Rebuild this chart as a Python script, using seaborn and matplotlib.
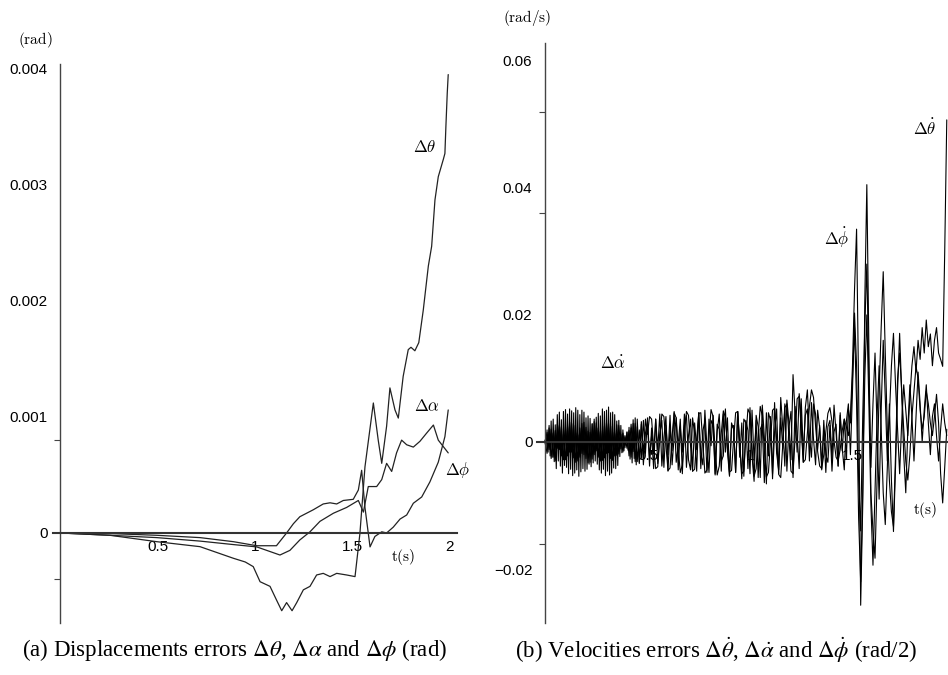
import numpy as np
import matplotlib
matplotlib.use('Agg')
import matplotlib.pyplot as plt
import seaborn as sns

# ---- (a) displacement errors, values in 1e-3 rad ----
t_theta = [0, 0.256, 0.496, 0.718, 0.889, 0.95, 0.991, 1.026, 1.077, 1.111, 1.137,
           1.162, 1.19, 1.214, 1.248, 1.282, 1.316, 1.35, 1.385, 1.419, 1.47, 1.513,
           1.538, 1.564, 1.607, 1.632, 1.65, 1.675, 1.692, 1.718, 1.735, 1.76, 1.786,
           1.80, 1.82, 1.84, 1.863, 1.889, 1.906, 1.923, 1.94, 1.966, 1.974, 1.979,
           1.986, 1.991]
d_theta = [0, -0.02, -0.075, -0.118, -0.218, -0.25, -0.29, -0.42, -0.46, -0.58, -0.67,
           -0.60, -0.67, -0.60, -0.49, -0.46, -0.362, -0.348, -0.376, -0.348, -0.362, -0.376,
           -0.006, 0.57, 1.12, 0.80, 0.60, 0.92, 1.25, 1.06, 0.99, 1.35, 1.58,
           1.60, 1.57, 1.64, 1.92, 2.30, 2.47, 2.87, 3.07, 3.22, 3.27, 3.50,
           3.79, 3.95]

t_alpha = [0, 0.256, 0.496, 0.718, 0.889, 1.009, 1.11, 1.162, 1.197, 1.23, 1.299, 1.35,
           1.385, 1.419, 1.453, 1.504, 1.53, 1.547, 1.564, 1.59, 1.615, 1.65, 1.675,
           1.709, 1.744, 1.778, 1.812, 1.855, 1.897, 1.94, 1.974, 1.991]
d_alpha = [0, -0.005, -0.02, -0.04, -0.075, -0.11, -0.11, 0, 0.08, 0.14, 0.20, 0.25,
           0.26, 0.25, 0.28, 0.29, 0.37, 0.54, 0.22, -0.12, -0.03, 0.01, 0,
           0.05, 0.12, 0.155, 0.256, 0.31, 0.44, 0.61, 0.83, 1.06]

t_phi = [0, 0.256, 0.496, 0.718, 0.889, 1.009, 1.077, 1.128, 1.179, 1.23, 1.282, 1.333,
         1.402, 1.47, 1.53, 1.556, 1.581, 1.624, 1.65, 1.675, 1.701, 1.726, 1.752,
         1.778, 1.812, 1.846, 1.88, 1.915, 1.94, 1.991]
d_phi = [0, -0.02, -0.04, -0.07, -0.10, -0.12, -0.16, -0.19, -0.15, -0.06, 0.01, 0.10,
         0.17, 0.22, 0.28, 0.18, 0.40, 0.40, 0.46, 0.60, 0.53, 0.69, 0.80,
         0.76, 0.74, 0.79, 0.86, 0.93, 0.80, 0.69]

# ---- (b) velocity errors, values in 1e-3 rad/s ----
# theta-dot and phi-dot sampled every 0.01 s from 0 to 1.96 s
v_theta = [
    0.0, -1.8, 2.2, -2.6, 1.4, -3.0, 2.8, -1.2, 2.4, -2.8,
    1.9, -2.2, 3.1, -1.6, 2.6, -3.2, 1.1, -2.4, 2.9, -2.0,
    2.3, -3.3, 1.5, -2.7, 3.2, -1.4, 2.2, -3.0, 1.8, -2.5,
    3.0, -1.7, 2.5, -2.9, 1.3, -2.1, 2.6, -1.1, 1.4, -0.9,
    1.6, -2.2, 2.8, -1.5, 2.9, -3.1, 1.9, -2.6, 3.4, -1.8,
    3.8, -2.4, 1.0, -4.2, 3.6, -1.2, 4.4, -3.8, 0.6, 4.0,
    -4.6, 2.2, -1.4, 4.8, -3.2, -0.4, 3.6, -5.0, 2.6, 4.2,
    -2.8, -4.4, 3.8, 1.2, -4.6, 4.6, -1.8, -3.6, 5.0, -0.8,
    -4.8, 3.4, 2.6, -5.2, 1.6, 4.4, -3.0, -2.2, 5.2, -1.4,
    -5.4, 3.0, 2.0, -4.8, 4.8, -0.6, -5.8, 3.6, 3.0, -4.2,
    5.4, -2.2, -6.2, 4.2, 2.4, -5.6, 5.8, 0.8, -6.6, 4.6,
    3.4, -5.0, 6.2, -1.8, -4.4, 7.0, 2.2, -3.8, 6.6, 3.0,
    -2.8, 10.6, 4.4, -1.6, 7.6, 3.8, -3.2, 5.4, 8.2, 1.0,
    -2.4, 6.0, 4.4, -1.2, 2.6, -3.6, 1.8, -4.8, 2.4, 3.4,
    -2.6, 5.8, 1.4, -3.8, 4.6, -1.0, -4.4, 3.2,
    6.0, -2.0, 8.0, 20.3, 12.0, -6.0, -14.0, 4.0, 18.0, 28.0,
    10.0, -4.0, 6.0, 14.0, 2.0, -9.0, 5.0, 16.0, 7.0, -3.0,
    4.0, 12.0, 17.1, 9.0, 2.0, -5.0, 3.0, 9.0, 5.0, 1.0,
    7.0, 12.0, 15.0, 11.0, 16.0, 13.0, 18.0, 14.0, 19.2, 15.0,
    17.0, 12.0, 16.0, 18.0, 14.0, 13.0, 11.9, 30.0, 50.7]
v_phi = [
    0.0, 1.5, -1.2, 2.0, -2.4, 1.8, -1.0, 2.6, -2.2, 1.2,
    -2.8, 2.4, -1.6, 2.9, -2.5, 1.4, -3.0, 2.2, -1.8, 3.1,
    -2.6, 1.7, -3.2, 2.8, -2.0, 3.0, -2.4, 1.6, -2.9, 2.5,
    -1.8, 2.9, -2.6, 1.5, -2.2, 2.7, -1.9, 1.2, -1.6, 0.8,
    -1.0, 1.8, -2.4, 2.9, -3.1, 2.4, -3.4, 3.2, -2.0, 3.6,
    1.2, 4.0, 3.6, -0.8, -4.2, -3.9,
    0.6, 4.4, 4.0, -0.5, -4.5, -4.1,
    0.9, 4.6, 3.8, -1.0, -4.8, -3.6,
    1.1, 4.8, 4.2, -0.6, -4.6, -4.3,
    0.4, 4.5, 4.6, -0.2, -4.9, -4.4,
    0.8, 5.1, 4.0, -1.2, -5.2, -3.8,
    1.4, 4.9, 3.9, -0.9, -4.7, -4.5,
    0.3, 4.6, 4.8, -0.1, -5.0, -4.6,
    0.7, 5.2, 4.4, -0.8, -5.4, -4.2,
    1.0, 5.6, 4.1, -1.3, -5.5, -4.8,
    0.2, 5.0, 5.3, 0.4, -5.1, -5.6,
    -0.4, 5.4, 6.0, 0.8, -4.6, -5.0,
    0.6, 6.8, 7.2, 2.0, -3.2, -2.8,
    1.5, 5.6, 8.2, 7.0, 2.5, -1.5, -3.8, -4.2, -2.0, 1.6,
    4.5, 5.4, 3.2, 0.2, -2.4, -3.0, -1.2, 1.8, 3.6, 2.4,
    1.0, 4.0, 12.0, 24.0, 33.5, 8.0, -25.7, -10.0, 22.0, 40.5,
    15.0, -8.0, -14.0, -18.3, -6.0, 8.0, 18.0, 26.8, 14.0, 2.0,
    -6.0, -11.0, -13.3, -2.0, 10.0, 14.0, 8.0, 2.0, -3.0, -6.0,
    -2.0, 4.0, 8.0, 11.9, 10.0, 5.0, 2.0, 4.0, 8.0, 6.0,
    3.0, 1.0, 4.0, 7.5, 3.0, -5.0, -9.6, -4.0, 2.0]
# alpha-dot: every 0.005 s up to 0.45 s, then every 0.01 s from 0.46 s
v_alpha_fast = [
    0.3, -1.0, 1.9, -1.6, 2.6, -2.2, 3.3, -2.4, 3.6, -3.1,
    2.7, -4.2, 4.3, -3.0, 4.7, -3.8, 3.5, -4.9, 4.8, -3.7,
    5.1, -4.0, 4.4, -5.0, 5.2, -4.3, 4.9, -5.3, 4.6, -4.9,
    5.4, -4.4, 5.0, -5.4, 4.3, -4.7, 5.0, -4.2, 4.7, -4.6,
    3.8, -4.3, 4.1, -3.5, 3.7, -3.9, 2.9, -3.3, 3.6, -3.0,
    3.9, -3.5, 4.5, -4.4, 4.1, -4.9, 5.2, -4.3, 4.8, -5.3,
    5.0, -4.6, 5.5, -5.2, 4.6, -4.9, 4.7, -4.1, 4.3, -4.2,
    3.3, -3.7, 3.4, -2.3, 2.6, -1.7, 1.9, -1.4, 1.0, -0.5,
    1.5, -1.3, 2.3, -2.7, 2.2, -3.3, 3.5, -2.6, 3.8, -3.6,
    3.6]
v_alpha_slow = [
    -3.2, 2.8, -3.6, 1.4, 3.0, -3.8, 2.2, -1.8, 3.6, -3.4,
    1.2, 3.4, -4.0, 2.6, -2.0, 4.2, -3.6, 0.8, 3.8, -4.4,
    2.4, -1.6, 4.4, -4.0, 1.0, 3.6, -4.6, 3.0, -1.2, 4.6,
    -4.2, 1.8, 3.2, -4.8, 3.6, -0.6, 4.2, -5.0, 2.8, 2.0,
    -4.6, 4.4, -1.6, 3.8, -5.2, 2.2, 2.6, -4.8, 4.8, -2.4,
    3.0, -5.4, 3.4, 1.8, -5.0, 5.0, -3.0, 3.4, -5.6, 2.0,
    2.8, -6.4, 4.6, -2.2, 4.0, -5.8, 1.6, 5.2, -5.0, 3.8,
    -1.0, 6.0, -4.6, 2.4, 4.8, -5.6, 5.6, 1.2, -4.2, 6.8,
    -2.0, 4.2, 5.2, -3.0, 6.2, 0.4, -3.6, 5.0, 2.2, -4.4,
    3.4, -2.0, -3.2, 2.6, -4.6, 1.6, 2.8, -3.8, 4.2, -1.4,
    3.6, -2.4, 5.2, 3.0, 10.0, 18.0, 6.0, -12.0, -22.0, -8.0,
    10.0, 20.0, 6.0, -10.0, -19.4, -8.0, 4.0, 12.0, 2.0, -8.0,
    -13.0, -4.0, 6.0, -6.0, -14.1, -4.0, 8.0, 17.1, 8.0, -2.0,
    -8.0, 2.0, 9.0, 4.0, -3.0, 4.0, 11.0, 6.0, 0.0, 5.0,
    9.0, 3.0, -2.0, 4.0, 6.0, 1.0, -3.0, 2.0, 6.0, 3.0,
    1.0]

t_grid = np.round(np.arange(len(v_theta)) * 0.01, 3)
t_alpha_dot = np.concatenate([np.round(np.arange(len(v_alpha_fast)) * 0.005, 3),
                              np.round(0.46 + np.arange(len(v_alpha_slow)) * 0.01, 3)])
v_alpha = v_alpha_fast + v_alpha_slow

sns.set_theme(style='white')
plt.rcParams['font.family'] = ['Liberation Sans', 'DejaVu Sans']

W, H = 948, 675
fig = plt.figure(figsize=(W / 100, H / 100), dpi=100)


def fpos(x, y):
    return x / W, 1 - y / H


def maple_axes(ax):
    for side in ['top', 'right']:
        ax.spines[side].set_visible(False)
    ax.spines['left'].set_position(('data', 0))
    ax.spines['bottom'].set_position(('data', 0))
    ax.spines['left'].set_color('#444444')
    ax.spines['left'].set_linewidth(1.0)
    ax.spines['bottom'].set_color('#333333')
    ax.spines['bottom'].set_linewidth(1.5)
    ax.set_axisbelow(True)
    ax.patch.set_alpha(0)
    ax.tick_params(axis='y', which='major', length=0, pad=9, labelsize=11, colors='black')
    ax.tick_params(axis='y', which='minor', left=True, length=4, width=0.8, color='#444444')
    ax.tick_params(axis='x', which='major', bottom=True, length=0, pad=5, labelsize=11,
                   colors='black')
    ax.set_xlabel('')
    ax.set_ylabel('')


# (a) displacement errors
ax1 = fig.add_axes([53.2 / W, 0.077, 403.6 / W, 0.828])
for t, d in [(t_theta, d_theta), (t_alpha, d_alpha), (t_phi, d_phi)]:
    sns.lineplot(x=t, y=np.array(d) * 1e-3, ax=ax1, color='#222222', linewidth=0.9,
                 estimator=None, sort=False)
ax1.set_xlim(-0.035, 2.035)
ax1.set_ylim(-0.000776, 0.00404)
ax1.set_xticks([0.5, 1, 1.5, 2])
ax1.set_xticklabels(['0.5', '1', '1.5', '2'])
ax1.set_yticks([0, 0.001, 0.002, 0.003, 0.004])
ax1.set_yticklabels(['0', '0.001', '0.002', '0.003', '0.004'])
ax1.set_yticks([-0.0004, 0.0008, 0.002, 0.003], minor=True)
maple_axes(ax1)

# (b) velocity errors
ax2 = fig.add_axes([536.8 / W, 0.077, 411.2 / W, 0.8593])
for t, v in [(t_alpha_dot, v_alpha), (t_grid, v_phi), (t_grid, v_theta)]:
    sns.lineplot(x=t, y=np.array(v) * 1e-3, ax=ax2, color='black', linewidth=0.8,
                 estimator=None, sort=False)
ax2.set_xlim(-0.04, 1.966)
ax2.set_ylim(-0.0285, 0.0628)
ax2.set_xticks([0.5, 1, 1.5])
ax2.set_xticklabels(['0.5', '1', '1.5'])
ax2.set_yticks([-0.02, 0, 0.02, 0.04, 0.06])
ax2.set_yticklabels(['\u22120.02', '0', '0.02', '0.04', '0.06'])
ax2.set_yticks([-0.016, 0.036, 0.052], minor=True)
maple_axes(ax2)

# in-plot labels (Computer Modern, like the original)
cm = dict(ha='center', va='center', math_fontfamily='cm', color='black')
fig.text(*fpos(35, 40), r'$\mathrm{(rad)}$', fontsize=11, **cm)
fig.text(*fpos(425, 147), r'$\Delta\theta$', fontsize=12, **cm)
fig.text(*fpos(427, 406), r'$\Delta\alpha$', fontsize=12, **cm)
fig.text(*fpos(458, 470), r'$\Delta\phi$', fontsize=12, **cm)
fig.text(*fpos(403, 557), r'$\mathrm{t(s)}$', fontsize=11, **cm)

fig.text(*fpos(527, 18), r'$\mathrm{(rad/s)}$', fontsize=11, **cm)
fig.text(*fpos(925, 128), r'$\Delta\dot{\theta}$', fontsize=12, **cm)
fig.text(*fpos(837, 238), r'$\Delta\dot{\phi}$', fontsize=12, **cm)
fig.text(*fpos(613, 363), r'$\Delta\dot{\alpha}$', fontsize=12, **cm)
fig.text(*fpos(925, 510), r'$\mathrm{t(s)}$', fontsize=11, **cm)

# captions
cap = dict(ha='center', va='center', family=['Liberation Serif', 'DejaVu Serif'],
           math_fontfamily='stix', fontsize=16.5, color='black')
fig.text(*fpos(235, 650),
         r'(a) Displacements errors $\Delta\theta$, $\Delta\alpha$ and $\Delta\phi$ (rad)', **cap)
fig.text(*fpos(716, 650),
         r'(b) Velocities errors $\Delta\dot{\theta}$, $\Delta\dot{\alpha}$ and '
         r'$\Delta\dot{\phi}$ (rad/2)', **cap)

fig.savefig('out.png', dpi=100)
